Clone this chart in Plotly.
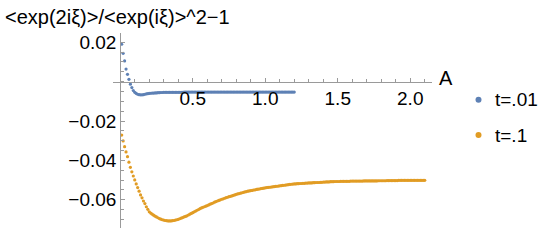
import plotly.graph_objects as go

# ---- data ----
A_blue = [round(0.01 * k, 2) for k in range(1, 121)]
blue = [
    0.0190, 0.0144, 0.0105, 0.0064, 0.0037, 0.0012, -0.0013, -0.0030, -0.0045, -0.0054,
    -0.0060, -0.0064, -0.0066, -0.0067, -0.0067, -0.0066, -0.0064, -0.0062, -0.0061, -0.0060,
    -0.0059, -0.0058, -0.0058, -0.0057, -0.0057, -0.0056, -0.0056, -0.0055, -0.0055, -0.0054,
    -0.0054, -0.0054, -0.0054, -0.0054, -0.0054, -0.0054, -0.0054, -0.0054, -0.0054, -0.0054,
    -0.0054, -0.0054, -0.0054, -0.0053, -0.0053, -0.0053, -0.0053, -0.0053, -0.0053, -0.0053,
    -0.0053, -0.0053, -0.0053, -0.0053, -0.0053, -0.0053, -0.0053, -0.0053, -0.0053, -0.0053,
    -0.0053, -0.0053, -0.0053, -0.0053, -0.0053, -0.0053, -0.0053, -0.0053, -0.0053, -0.0053,
    -0.0053, -0.0053, -0.0053, -0.0053, -0.0053, -0.0053, -0.0053, -0.0053, -0.0053, -0.0053,
    -0.0053, -0.0053, -0.0053, -0.0053, -0.0053, -0.0053, -0.0053, -0.0053, -0.0053, -0.0053,
    -0.0053, -0.0053, -0.0053, -0.0053, -0.0053, -0.0053, -0.0053, -0.0053, -0.0053, -0.0053,
    -0.0053, -0.0053, -0.0053, -0.0053, -0.0053, -0.0053, -0.0053, -0.0053, -0.0053, -0.0053,
    -0.0053, -0.0053, -0.0053, -0.0053, -0.0053, -0.0053, -0.0053, -0.0053, -0.0053, -0.0053,
]

A_orange = [round(0.01 * k, 2) for k in range(1, 211)]
orange = [
    -0.0271, -0.0301, -0.0330, -0.0357, -0.0381, -0.0409, -0.0435, -0.0458, -0.0479, -0.0499,
    -0.0519, -0.0538, -0.0556, -0.0575, -0.0590, -0.0606, -0.0619, -0.0635, -0.0648, -0.0661,
    -0.0667, -0.0673, -0.0678, -0.0683, -0.0687, -0.0691, -0.0695, -0.0698, -0.0701, -0.0703,
    -0.0705, -0.0706, -0.0707, -0.0707, -0.0707, -0.0706, -0.0705, -0.0703, -0.0701, -0.0699,
    -0.0696, -0.0693, -0.0690, -0.0687, -0.0684, -0.0681, -0.0677, -0.0673, -0.0669, -0.0665,
    -0.0661, -0.0657, -0.0653, -0.0649, -0.0645, -0.0641, -0.0638, -0.0635, -0.0632, -0.0629,
    -0.0626, -0.0622, -0.0619, -0.0616, -0.0612, -0.0609, -0.0606, -0.0603, -0.0600, -0.0597,
    -0.0595, -0.0592, -0.0589, -0.0587, -0.0584, -0.0582, -0.0580, -0.0577, -0.0575, -0.0572,
    -0.0570, -0.0568, -0.0566, -0.0564, -0.0562, -0.0560, -0.0558, -0.0556, -0.0555, -0.0553,
    -0.0552, -0.0550, -0.0549, -0.0547, -0.0546, -0.0545, -0.0543, -0.0542, -0.0541, -0.0539,
    -0.0538, -0.0537, -0.0536, -0.0535, -0.0534, -0.0533, -0.0532, -0.0531, -0.0530, -0.0529,
    -0.0528, -0.0527, -0.0526, -0.0525, -0.0524, -0.0523, -0.0522, -0.0521, -0.0520, -0.0519,
    -0.0519, -0.0518, -0.0518, -0.0517, -0.0517, -0.0516, -0.0516, -0.0515, -0.0515, -0.0514,
    -0.0514, -0.0514, -0.0513, -0.0513, -0.0512, -0.0512, -0.0512, -0.0511, -0.0511, -0.0510,
    -0.0510, -0.0509, -0.0509, -0.0509, -0.0508, -0.0508, -0.0508, -0.0507, -0.0507, -0.0507,
    -0.0507, -0.0506, -0.0506, -0.0506, -0.0506, -0.0506, -0.0506, -0.0506, -0.0505, -0.0505,
    -0.0505, -0.0505, -0.0505, -0.0505, -0.0505, -0.0505, -0.0505, -0.0504, -0.0504, -0.0504,
    -0.0504, -0.0504, -0.0504, -0.0504, -0.0504, -0.0504, -0.0504, -0.0503, -0.0503, -0.0503,
    -0.0503, -0.0503, -0.0503, -0.0502, -0.0502, -0.0502, -0.0502, -0.0502, -0.0502, -0.0502,
    -0.0502, -0.0501, -0.0501, -0.0501, -0.0501, -0.0501, -0.0501, -0.0501, -0.0501, -0.0501,
    -0.0501, -0.0501, -0.0501, -0.0501, -0.0501, -0.0501, -0.0501, -0.0501, -0.0501, -0.0501,
]

series_names = ["t=.01", "t=.1"]
x_tickvals = [0.5, 1.0, 1.5, 2.0]
x_ticktext = ["0.5", "1.0", "1.5", "2.0"]
y_tickvals = [0.02, -0.02, -0.04, -0.06]
y_ticktext = ["0.02", "\u22120.02", "\u22120.04", "\u22120.06"]
title_text = "&lt;exp(2i\u03be)&gt;/&lt;exp(i\u03be)&gt;^2\u22121"
x_label = "A"

BLUE = "#5E81B5"
ORANGE = "#E19C24"
AXIS = "#9a9a9a"
FONT = "Liberation Sans, Arial, sans-serif"
TICK_SIZE = 19

W, H = 544, 245
XR = [-0.05, 2.15]
YR = [-0.0743, 0.0247]
# plot region in pixels
PX0, PX1 = 113, 432
PY0, PY1 = 33, 228   # top, bottom
xdom = [PX0 / W, PX1 / W]
ydom = [(H - PY1) / H, (H - PY0) / H]
# where the axes cross (data 0,0) in paper fractions
y_axis_pos = xdom[0] + (0 - XR[0]) / (XR[1] - XR[0]) * (xdom[1] - xdom[0])
x_axis_pos = ydom[0] + (0 - YR[0]) / (YR[1] - YR[0]) * (ydom[1] - ydom[0])

fig = go.Figure()
fig.add_trace(go.Scatter(x=A_blue, y=blue, mode="markers", name=series_names[0],
                         marker=dict(size=3.2, color=BLUE), hoverinfo="skip"))
fig.add_trace(go.Scatter(x=A_orange, y=orange, mode="markers", name=series_names[1],
                         marker=dict(size=3.2, color=ORANGE), hoverinfo="skip"))

# hand-placed legend (dot + label) to the right of the plot
legend_y_px = [99.7, 135.0]
shapes = []
annotations = [
    dict(text=title_text, xref="paper", yref="paper",
         x=3 / W, y=(H - 17) / H, xanchor="left", yanchor="middle",
         showarrow=False, font=dict(family=FONT, size=20, color="black")),
    dict(text=x_label, xref="paper", yref="y",
         x=437 / W, y=0, xanchor="left", yanchor="middle", yshift=4,
         showarrow=False, font=dict(family=FONT, size=20, color="black")),
]
for name, col, ypx in zip(series_names, [BLUE, ORANGE], legend_y_px):
    shapes.append(dict(type="circle", xref="paper", yref="paper",
                       xsizemode="pixel", ysizemode="pixel",
                       xanchor=478.5 / W, yanchor=(H - ypx) / H,
                       x0=-3, x1=3, y0=-3, y1=3,
                       fillcolor=col, line=dict(width=0)))
    annotations.append(dict(text=name, xref="paper", yref="paper",
                            x=493 / W, y=(H - ypx) / H, xanchor="left", yanchor="middle",
                            showarrow=False, font=dict(family=FONT, size=TICK_SIZE, color="black")))

fig.update_layout(
    width=W, height=H,
    margin=dict(l=0, r=0, t=0, b=0, autoexpand=False),
    paper_bgcolor="white", plot_bgcolor="white",
    font=dict(family=FONT, size=TICK_SIZE, color="black"),
    showlegend=False,
    xaxis=dict(domain=xdom, range=XR, anchor="free", position=x_axis_pos,
               showline=True, linecolor=AXIS, linewidth=1,
               ticks="inside", ticklen=4, tickcolor=AXIS, tickwidth=1,
               tickmode="array", tickvals=x_tickvals, ticktext=x_ticktext,
               tickfont=dict(family=FONT, size=TICK_SIZE, color="black"),
               showgrid=False, zeroline=False,
               minor=dict(tickmode="linear", tick0=0, dtick=0.1, ticks="inside",
                          ticklen=2.5, tickcolor=AXIS, showgrid=False)),
    yaxis=dict(domain=ydom, range=YR, anchor="free", position=y_axis_pos,
               showline=True, linecolor=AXIS, linewidth=1,
               ticks="inside", ticklen=4, tickcolor=AXIS, tickwidth=1,
               tickmode="array", tickvals=y_tickvals, ticktext=y_ticktext,
               tickfont=dict(family=FONT, size=TICK_SIZE, color="black"),
               showgrid=False, zeroline=False,
               minor=dict(tickmode="linear", tick0=0, dtick=0.005, ticks="inside",
                          ticklen=2.5, tickcolor=AXIS, showgrid=False)),
    shapes=shapes,
    annotations=annotations,
)

fig.write_html("out.html",
               config={"displayModeBar": False, "staticPlot": True},
               post_script="document.body.style.margin='0px';document.body.style.overflow='hidden';")
